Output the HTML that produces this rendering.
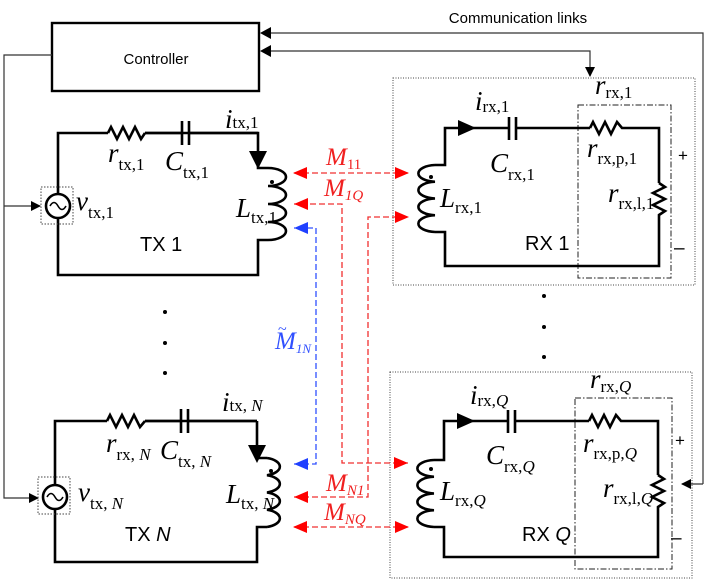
<!DOCTYPE html>
<html><head><meta charset="utf-8"><style>
html,body{margin:0;padding:0;background:#fff;}
svg{display:block;}
.s{font-family:"Liberation Serif",serif;font-style:italic;}
.sub{font-family:"Liberation Serif",serif;font-style:normal;}
.sans{font-family:"Liberation Sans",sans-serif;}
</style></head><body>
<svg width="706" height="582" viewBox="0 0 706 582" xmlns="http://www.w3.org/2000/svg">
<defs>
<marker id="ak" markerWidth="10" markerHeight="10" refX="9" refY="5" orient="auto" markerUnits="userSpaceOnUse"><path d="M0,0 L10,5 L0,10 z" fill="#000"/></marker>
<marker id="ar" markerWidth="14" markerHeight="12" refX="13" refY="6" orient="auto" markerUnits="userSpaceOnUse"><path d="M0,0 L14,6 L0,12 z" fill="#f00"/></marker>
<marker id="ars" markerWidth="14" markerHeight="12" refX="1" refY="6" orient="auto" markerUnits="userSpaceOnUse"><path d="M14,0 L0,6 L14,12 z" fill="#f00"/></marker>
</defs>

<rect x="52" y="23" width="207" height="68" fill="none" stroke="#000" stroke-width="2.4"/>
<text x="156" y="64" class="sans" font-size="15" text-anchor="middle">Controller</text>
<text x="518" y="23" class="sans" font-size="15" text-anchor="middle">Communication links</text>

<g stroke="#333" stroke-width="1.2" fill="none">
<polyline points="52,55 4,55 4,498 38,498" marker-end="url(#ak)"/>
<polyline points="4,206 40,206" marker-end="url(#ak)"/>
<polyline points="703,484 703,33 262,33"/>
<polyline points="703,484 682,484" marker-end="url(#ak)"/>
<polyline points="262,51 590,51 590,76" marker-end="url(#ak)"/>
</g>
<path d="M260,33 l11,-6 v12 z M260,51 l11,-6 v12 z" fill="#000"/>

<!-- TX1 -->
<g stroke="#000" stroke-width="2.6" fill="none">
<polyline points="258,155 258,133 145,133"/>
<polyline points="108,133 58,133 58,194"/>
<polyline points="58,218 58,275 258,275 258,240 268,240"/>
<polyline points="108,133 111,127 117,139 123,127 129,139 135,127 141,139 145,133"/>
<line x1="145" y1="133" x2="182" y2="133"/><line x1="189" y1="133" x2="258" y2="133"/>
<line x1="182" y1="121" x2="182" y2="145"/><line x1="189" y1="121" x2="189" y2="145"/>
<circle cx="58" cy="206" r="12"/>
<path d="M50,206 q4,-7 8,0 t8,0" stroke-width="1.6"/>
<polyline points="258,165 258,168 268,168"/>
<path d="M268,168 a18,9 0 0 1 0,18 a18,9 0 0 1 0,18 a18,9 0 0 1 0,18 a18,9 0 0 1 0,18"/>
</g>
<path d="M249,151 L267,151 L258,169 z" fill="#000"/>
<circle cx="272" cy="182" r="2" fill="#000"/>
<rect x="41" y="187" width="32" height="37" fill="none" stroke="#444" stroke-dasharray="1.5,1.5" stroke-width="1"/>

<!-- TXN -->
<g stroke="#000" stroke-width="2.6" fill="none">
<polyline points="257,421 145,421"/>
<polyline points="107,421 55,421 55,485"/>
<polyline points="55,509 55,562 257,562 257,527 267,527"/>
<polyline points="107,421 110,415 116,427 122,415 128,427 134,415 140,427 145,421"/>
<line x1="145" y1="421" x2="181" y2="421"/><line x1="188" y1="421" x2="257" y2="421"/>
<line x1="181" y1="409" x2="181" y2="433"/><line x1="188" y1="409" x2="188" y2="433"/>
<circle cx="55" cy="497" r="12"/>
<path d="M47,497 q4,-7 8,0 t8,0" stroke-width="1.6"/>
<polyline points="257,421 257,458 267,458"/>
<path d="M267,458 a18,9 0 0 1 0,17.25 a18,9 0 0 1 0,17.25 a18,9 0 0 1 0,17.25 a18,9 0 0 1 0,17.25"/>
</g>
<path d="M248,445 L266,445 L257,463 z" fill="#000"/>
<circle cx="271" cy="471" r="2" fill="#000"/>
<rect x="38" y="477" width="32" height="37" fill="none" stroke="#444" stroke-dasharray="1.5,1.5" stroke-width="1"/>

<g fill="#000"><circle cx="165" cy="312" r="2"/><circle cx="165" cy="343" r="2"/><circle cx="165" cy="373" r="2"/>
<circle cx="544" cy="296" r="2"/><circle cx="544" cy="327" r="2"/><circle cx="544" cy="357" r="2"/></g>

<!-- RX1 -->
<rect x="393" y="78" width="302" height="207" fill="none" stroke="#444" stroke-dasharray="1,1.5" stroke-width="1"/>
<rect x="578" y="105" width="93" height="173" fill="none" stroke="#222" stroke-dasharray="6,2,1.5,2" stroke-width="1"/>
<g stroke="#000" stroke-width="2.6" fill="none">
<polyline points="435,165 445,165 445,128 509,128"/>
<polyline points="516,128 590,128"/>
<line x1="509" y1="117" x2="509" y2="140"/><line x1="516" y1="117" x2="516" y2="140"/>
<polyline points="590,128 593,122 599,134 605,122 611,134 617,122 622,128 659,128 659,183"/>
<polyline points="659,183 665,187 653,193 665,199 653,205 665,211 659,215 659,266 445,266 445,232 435,232"/>
<path d="M435,165 a18,8.4 0 0 0 0,16.75 a18,8.4 0 0 0 0,16.75 a18,8.4 0 0 0 0,16.75 a18,8.4 0 0 0 0,16.75"/>
</g>
<path d="M458,120 L476,128 L458,136 z" fill="#000"/>
<circle cx="431" cy="177" r="2" fill="#000"/>
<text x="678" y="161" class="sans" font-size="17">+</text>
<text x="674" y="254" class="sans" font-size="19">–</text>

<!-- RXQ -->
<rect x="390" y="372" width="302" height="206" fill="none" stroke="#444" stroke-dasharray="1,1.5" stroke-width="1"/>
<rect x="575" y="398" width="97" height="171" fill="none" stroke="#222" stroke-dasharray="6,2,1.5,2" stroke-width="1"/>
<g stroke="#000" stroke-width="2.6" fill="none">
<polyline points="434,460 444,460 444,421 508,421"/>
<polyline points="515,421 589,421"/>
<line x1="508" y1="410" x2="508" y2="433"/><line x1="515" y1="410" x2="515" y2="433"/>
<polyline points="589,421 592,415 598,427 604,415 610,427 616,415 621,421 658,421 658,475"/>
<polyline points="658,475 664,479 652,485 664,491 652,497 664,503 658,507 658,557 444,557 444,527 434,527"/>
<path d="M434,460 a18,8.4 0 0 0 0,16.75 a18,8.4 0 0 0 0,16.75 a18,8.4 0 0 0 0,16.75 a18,8.4 0 0 0 0,16.75"/>
</g>
<path d="M457,413 L475,421 L457,429 z" fill="#000"/>
<circle cx="431" cy="469" r="2" fill="#000"/>
<text x="675" y="446" class="sans" font-size="17">+</text>
<text x="671" y="544" class="sans" font-size="19">–</text>

<!-- red couplings -->
<g stroke="#f03030" stroke-width="1.3" stroke-dasharray="6,3" fill="none">
<line x1="294" y1="173" x2="408" y2="173" marker-start="url(#ars)" marker-end="url(#ar)"/>
<polyline points="408,463 342,463 342,204 294,204"/>
<polyline points="294,497 368,497 368,217 408,217" marker-end="url(#ar)"/>
<line x1="294" y1="527" x2="408" y2="527" marker-start="url(#ars)" marker-end="url(#ar)"/>
</g>
<path d="M408,463 l-14,-6 v12 z M294,204 l14,-6 v12 z M294,497 l14,-6 v12 z" fill="#f00"/>
<g stroke="#3050ff" stroke-width="1.3" stroke-dasharray="6,3" fill="none">
<polyline points="294,464 316,464 316,228 294,228"/>
</g>
<path d="M294,464 l14,-6 v12 z M294,228 l14,-6 v12 z" fill="#2040ff"/>

<!-- labels -->
<g font-size="27" fill="#000">
<text x="225" y="128" class="s">i<tspan class="sub" font-size="17">tx,1</tspan></text>
<text x="108" y="162" class="s">r<tspan class="sub" font-size="17" dy="8">tx,1</tspan></text>
<text x="165" y="170" class="s">C<tspan class="sub" font-size="17" dy="8">tx,1</tspan></text>
<text x="76" y="210" class="s">v<tspan class="sub" font-size="17" dy="8">tx,1</tspan></text>
<text x="236" y="217" class="s">L<tspan class="sub" font-size="17" dy="6">tx,1</tspan></text>
<text x="140" y="251" class="sans" font-size="20">TX 1</text>

<text x="222" y="411" class="s">i<tspan class="sub" font-size="17">tx,</tspan><tspan font-size="17"> N</tspan></text>
<text x="106" y="452" class="s">r<tspan class="sub" font-size="17" dy="8">rx,</tspan><tspan font-size="17"> N</tspan></text>
<text x="160" y="459" class="s">C<tspan class="sub" font-size="17" dy="8">tx,</tspan><tspan font-size="17"> N</tspan></text>
<text x="78" y="501" class="s">v<tspan class="sub" font-size="17" dy="8">tx,</tspan><tspan font-size="17"> N</tspan></text>
<text x="226" y="503" class="s">L<tspan class="sub" font-size="17" dy="6">tx,</tspan><tspan font-size="17"> N</tspan></text>
<text x="125" y="541" class="sans" font-size="20">TX <tspan font-style="italic">N</tspan></text>

<text x="475" y="110" class="s">i<tspan class="sub" font-size="17" dy="2">rx,1</tspan></text>
<text x="490" y="172" class="s">C<tspan class="sub" font-size="17" dy="8">rx,1</tspan></text>
<text x="440" y="207" class="s">L<tspan class="sub" font-size="17" dy="6">rx,1</tspan></text>
<text x="595" y="94" class="s">r<tspan class="sub" font-size="17" dy="4">rx,1</tspan></text>
<text x="587" y="157" class="s">r<tspan class="sub" font-size="17" dy="7">rx,p,1</tspan></text>
<text x="608" y="202" class="s">r<tspan class="sub" font-size="17" dy="7">rx,l,1</tspan></text>
<text x="525" y="250" class="sans" font-size="20">RX 1</text>

<text x="470" y="404" class="s">i<tspan class="sub" font-size="17" dy="2">rx,</tspan><tspan font-size="17">Q</tspan></text>
<text x="486" y="464" class="s">C<tspan class="sub" font-size="17" dy="8">rx,</tspan><tspan font-size="17">Q</tspan></text>
<text x="440" y="500" class="s">L<tspan class="sub" font-size="17" dy="6">rx,</tspan><tspan font-size="17">Q</tspan></text>
<text x="590" y="388" class="s">r<tspan class="sub" font-size="17" dy="4">rx,</tspan><tspan font-size="17">Q</tspan></text>
<text x="583" y="452" class="s">r<tspan class="sub" font-size="17" dy="7">rx,p,</tspan><tspan font-size="17">Q</tspan></text>
<text x="603" y="497" class="s">r<tspan class="sub" font-size="17" dy="7">rx,l,</tspan><tspan font-size="17">Q</tspan></text>
<text x="522" y="541" class="sans" font-size="20">RX <tspan font-style="italic">Q</tspan></text>
</g>
<g font-size="25" fill="#f02020">
<text x="326" y="165" class="s">M<tspan class="sub" font-size="15" dy="4">11</tspan></text>
<text x="324" y="196" class="s">M<tspan font-size="15" dy="4">1Q</tspan></text>
<text x="326" y="491" class="s">M<tspan font-size="15" dy="4">N1</tspan></text>
<text x="324" y="520" class="s">M<tspan font-size="15" dy="4">NQ</tspan></text>
</g>
<text x="275" y="349" class="s" font-size="25" fill="#3050ff">M<tspan font-size="13" dy="4">1N</tspan></text>
<text x="278" y="334" font-size="16" fill="#3050ff" font-family="Liberation Serif,serif">~</text>
</svg>
</body></html>
